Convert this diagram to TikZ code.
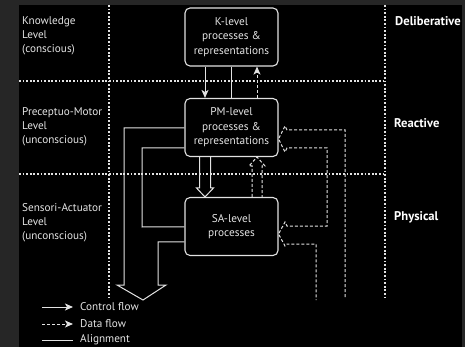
\documentclass[tikz,border=0pt]{standalone}
\usepackage{fontspec}
\setmainfont{PT Sans}
\usetikzlibrary{arrows.meta,calc}
\definecolor{bggray}{HTML}{262626}
\definecolor{fg}{HTML}{E2E2E2}
\definecolor{txt}{HTML}{E4E4E4}
\begin{document}
\begin{tikzpicture}[x=1pt,y=-1pt,
  box/.style={draw=fg, line width=1.1pt, rounded corners=5pt, minimum width=93pt, minimum height=58pt,
    text=txt, align=center, font=\fontsize{11.3}{14.5}\selectfont, inner sep=0pt},
  lbl/.style={text=txt, align=left, anchor=west, inner sep=0pt, font=\fontsize{11.2}{14}\selectfont},
  lvl/.style={text=white, anchor=west, inner sep=0pt, font=\fontsize{12.6}{14}\selectfont\bfseries},
  gridline/.style={draw=fg, line width=1.2pt, dash pattern=on 1.8pt off 1.8pt},
  solidl/.style={draw=fg, line width=1pt},
  ctrl/.style={draw=fg, line width=1pt, -{Stealth[length=8pt,width=7pt,inset=2pt]}},
  data/.style={draw=fg, line width=1pt, dash pattern=on 3pt off 2pt},
  dataarr/.style={data, -{Stealth[length=8pt,width=7pt,inset=2pt]}}
]
\useasboundingbox (0,0) rectangle (465,347);
\clip (0,0) rectangle (465,347);
\fill[bggray] (0,0) rectangle (465,347);
\fill[black] (19,5) rectangle (462,347);

% grid
\draw[gridline] (19,81) -- (385,81);
\draw[gridline] (19,174) -- (385,174);
\draw[gridline] (109,5) -- (109,297);
\draw[gridline] (385,5) -- (385,300);

% level labels
\node[lbl] (kl) at (22,36) {Knowledge\\Level\\(conscious)};
\node[lbl] (pml) at (22,126.5) {Preceptuo-Motor\\Level\\(unconscious)};
\node[lbl] (sal) at (22,222.5) {Sensori-Actuator\\Level\\(unconscious)};

\node[lvl] (delib) at (395,21) {Deliberative};
\node[lvl] (react) at (394,123) {Reactive};
\node[lvl] (phys) at (394,217) {Physical};

% boxes
\node[box] (k) at (231.5,37) {K-level\\processes \&\\representations};
\node[box] (pm) at (231.5,127.5) {PM-level\\processes \&\\representations};
\node[box] (sa) at (231.5,226.5) {SA-level\\processes};

% K <-> PM
\draw[ctrl] ([xshift=-26.5pt]k.south) -- ([xshift=-26.5pt]pm.north);
\draw[solidl] (k.south) -- (pm.north);
\draw[dataarr] ([xshift=25.5pt]pm.north) -- ([xshift=25.5pt]k.south);

% PM -> SA hollow control arrow
\draw[solidl] ([xshift=-32pt]pm.south) -- (199.5,188) -- (196.5,188) -- ([xshift=-26.5pt]sa.north)
  -- (213.5,188) -- (210.5,188) -- ([xshift=-21pt]pm.south);

% SA -> PM hollow data arrow
\draw[data] ([xshift=20.5pt]sa.north) -- (252,166) -- (249,166) -- ([xshift=25.5pt]pm.south)
  -- (265,166) -- (262,166) -- ([xshift=30.5pt]sa.north);

% right branched data input
\coordinate (pmtip) at ([yshift=-41pt]pm.north east);
\coordinate (satip) at ([yshift=-37pt]sa.north east);
\draw[data] (345,297) -- (345,130) -- (287,130) -- (285,126) -- (pmtip) -- (285,152) -- (287,148)
  -- (327,148) -- (327,226) -- (287,226) -- (285,222) -- (satip) -- (285,246) -- (287,244)
  -- (316,244) -- (316,300);

% left alignment merge
\draw[solidl] ([yshift=-30pt]pm.north west) -| (124,285) -- (117,285) -- (143,300) -- (166,285)
  -- (158,285) |- ([yshift=-45pt]sa.north west);
\draw[solidl] ([yshift=-50pt]pm.north west) -| (142,227) -- ([yshift=-30pt]sa.north west);

% legend
\node[lbl] (t1) at (80,307) {Control flow};
\node[lbl] (t2) at (80,324) {Data flow};
\node[lbl] (t3) at (80,340) {Alignment};
\coordinate (l1) at (42,307);
\coordinate (l2) at (42,324);
\coordinate (l3) at (42,340);
\draw[ctrl] (l1) -- ([xshift=-7pt]t1.west);
\draw[dataarr] (l2) -- ([xshift=-7pt]t2.west);
\draw[solidl] (l3) -- ([xshift=-7pt]t3.west);
\end{tikzpicture}
\end{document}
